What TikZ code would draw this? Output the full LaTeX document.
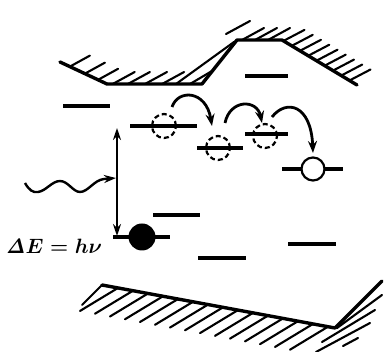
\documentclass[tikz,border=0pt]{standalone}
\usetikzlibrary{arrows.meta,calc}
\begin{document}
\begin{tikzpicture}[x=1pt,y=-1pt,
  lvl/.style={line width=3.2pt},
  bound/.style={line width=3.4pt, line join=round, line cap=round},
  hatch/.style={line width=2.1pt, line cap=round},
  hop/.style={line width=2.8pt, -{Stealth[length=12pt,width=9pt]}},
  pump/.style={line width=2.3pt, {Stealth[length=12pt,width=8pt]}-{Stealth[length=12pt,width=8pt]}},
  photon/.style={line width=2.4pt, -{Stealth[length=12pt,width=8pt]}},
  trap/.style={circle, draw, dash pattern=on 5pt off 3pt, line width=2.2pt, minimum size=24pt, inner sep=0pt},
  hole/.style={circle, draw, fill=white, line width=2.2pt, minimum size=23pt, inner sep=0pt},
  elec/.style={circle, fill=black, minimum size=27pt, inner sep=0pt},
  lbl/.style={font=\fontsize{20}{24}\selectfont\boldmath, inner sep=0pt}
]
\useasboundingbox (0,0) rectangle (386,352);

% top boundary
\coordinate (T1) at (60,62);
\coordinate (T2) at (107,84);
\coordinate (T3) at (202,84);
\coordinate (T4) at (237,40);
\coordinate (T5) at (282,40);
\coordinate (T6) at (357,85);
\draw[bound] (T1) -- (T2) -- (T3) -- (T4) -- (T5) -- (T6);
\foreach \t in {0.21,0.53,0.81} \draw[hatch] ($(T1)!\t!(T2)$) -- ++(20,-11);
\foreach \t in {0.06,0.22,0.40,0.58} \draw[hatch] ($(T2)!\t!(T3)$) -- ++(22,-12);
\draw[hatch] (176,84) -- (234,42);
\draw[hatch] (190,84) -- (212,71);
\draw[hatch] (226,34) -- (250,21);
\foreach \x in {242,255,268} \draw[hatch] (\x,40) -- ++(22,-12);
\foreach \t in {0.02,0.13,0.24,0.35,0.46,0.57,0.68,0.79,0.90} \draw[hatch] ($(T5)!\t!(T6)$) -- ++(21,-11);

% bottom boundary
\coordinate (B1) at (102,285);
\coordinate (B2) at (335,328);
\coordinate (B3) at (382,281);
\draw[bound] (B1) -- (B2) -- (B3);
\draw[hatch] (B1) -- ++(-20,20);
\foreach \x in {118,133,148,163,178,193,208,223,238,253,268,283,298,313,328}
  \draw[hatch] ($(B1)!{(\x-102)/233}!(B2)$) -- ++(-38,23);
\draw[hatch] (382,295) -- (337,328);
\draw[hatch] (375,310) -- (322,342);
\draw[hatch] (370,323) -- (316,352);
\draw[hatch] (358,338) -- (343,346);

% energy levels
\draw[lvl] (245,76) -- (288,76);
\draw[lvl] (63,106) -- (110,106);
\draw[lvl] (130,126) -- (197,126);
\draw[lvl] (197,148) -- (243,148);
\draw[lvl] (245,134) -- (288,134);
\draw[lvl] (282,169) -- (343,169);
\draw[lvl] (153,215) -- (200,215);
\draw[lvl] (113,237) -- (170,237);
\draw[lvl] (198,258) -- (246,258);
\draw[lvl] (288,244) -- (336,244);

% carriers
\node[trap] (c1) at (164,126) {};
\node[trap] (c2) at (218,148) {};
\node[trap] (c3) at (265,136) {};
\node[hole] (c4) at (313,169) {};
\node[elec] (e0) at (142,237) {};

% hopping arrows
\coordinate (a1s) at (172,107);
\coordinate (a1e) at (212,126);
\coordinate (a2s) at (225,123);
\coordinate (a2e) at (262,123);
\coordinate (a3s) at (272,117);
\coordinate (a3e) at (313,153);
\draw[hop] (a1s) .. controls (178,89) and (206,90) .. (a1e);
\draw[hop] (a2s) .. controls (230,99) and (257,99) .. (a2e);
\draw[hop] (a3s) .. controls (286,99) and (311,104) .. (a3e);

% excitation
\coordinate (vt) at (117,128);
\coordinate (vb) at (117,236);
\draw[pump] (vt) -- (vb);
\coordinate (ws) at (25,183);
\coordinate (wend) at (116,178);
\draw[photon] (ws) .. controls (29,190) and (33,193) .. (38,192)
  .. controls (46,191) and (52,181) .. (60,181)
  .. controls (68,181) and (73,192) .. (80,192)
  .. controls (88,192) and (94,180) .. (104,179) -- (wend);

\node[lbl] (de) at (54,246) {$\mathit{\Delta}E=h\nu$};
\end{tikzpicture}
\end{document}
